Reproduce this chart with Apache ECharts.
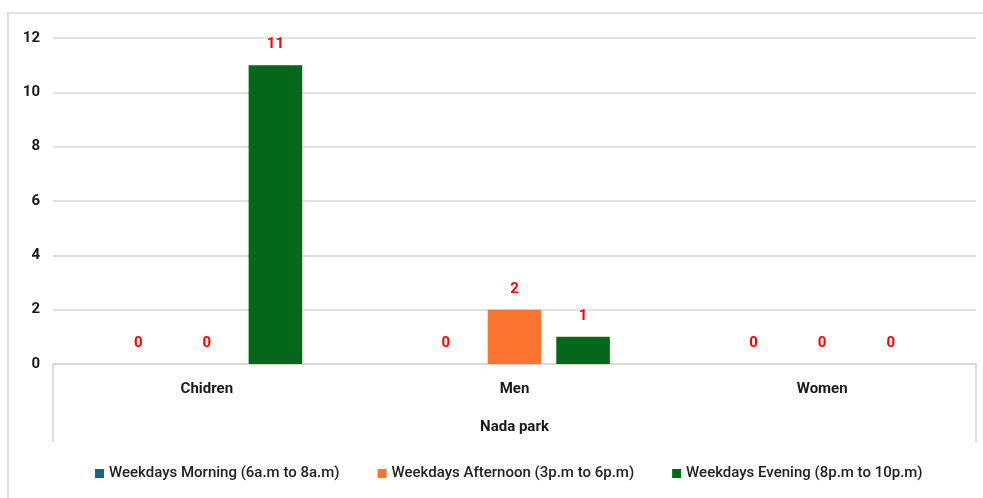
<!DOCTYPE html>
<html>
<head>
<meta charset="utf-8">
<script src="https://cdn.jsdelivr.net/npm/echarts@6/dist/echarts.min.js"></script>
<style>
  html, body { margin: 0; padding: 0; background: #fff; }
  #chart { width: 983px; height: 498px; }
</style>
</head>
<body>
<div id="chart"></div>
<script>
// Visitor counts at Nada park by group and time of day
const groups = ['Chidren', 'Men', 'Women'];
const parkName = ['Nada park'];
const seriesNames = [
  'Weekdays Morning (6a.m to 8a.m)',
  'Weekdays Afternoon (3p.m to 6p.m)',
  'Weekdays Evening (8p.m to 10p.m)'
];
const morning = [0, 0, 0];
const afternoon = [0, 2, 0];
const evening = [11, 1, 0];
const seriesColors = ['#1B6485', '#FB7430', '#05671A'];

const FONT = 'Roboto, "Liberation Sans", sans-serif';

const chart = echarts.init(document.getElementById('chart'), null, { renderer: 'canvas' });

function barSeries(name, values, color) {
  return {
    name: name,
    type: 'bar',
    data: values,
    xAxisIndex: 0,
    itemStyle: { color: color },
    barGap: '28%',
    barCategoryGap: '38%',
    label: {
      show: true,
      position: 'top',
      distance: 13,
      color: '#FF0000',
      fontWeight: 'bold',
      fontSize: 15,
      fontFamily: FONT
    }
  };
}

chart.setOption({
  animation: false,
  backgroundColor: '#ffffff',
  graphic: [{
    type: 'rect',
    shape: { x: 8, y: 13, width: 1000, height: 520 },
    style: { fill: 'none', stroke: '#d9d9d9', lineWidth: 1.5 },
    silent: true
  }],
  grid: { left: 53, right: 7, top: 38, bottom: 134 },
  legend: {
    bottom: 12,
    left: 90,
    icon: 'rect',
    itemWidth: 9,
    itemHeight: 9,
    itemGap: 38,
    itemTextGap: 4,
    textStyle: { fontSize: 15, color: '#222', fontFamily: FONT, fontWeight: 500 },
    data: seriesNames
  },
  xAxis: [{
    type: 'category',
    data: groups,
    axisLine: { show: true, lineStyle: { color: '#d4d4d4', width: 1.5 } },
    axisTick: { show: false },
    axisLabel: { margin: 18, fontSize: 15, fontWeight: 'bold', color: '#1a1a1a', fontFamily: FONT }
  }, {
    type: 'category',
    data: parkName,
    position: 'bottom',
    axisLine: { show: false },
    axisTick: { show: true, length: 78, lineStyle: { color: '#d4d4d4', width: 1.5 } },
    axisLabel: { margin: 56, fontSize: 15, fontWeight: 'bold', color: '#1a1a1a', fontFamily: FONT },
    splitLine: { show: false }
  }],
  yAxis: {
    type: 'value',
    min: 0,
    max: 12,
    interval: 2,
    axisLine: { show: false },
    axisTick: { show: false },
    splitLine: { lineStyle: { color: '#d9d9d9', width: 1.5 } },
    axisLabel: { margin: 13, fontSize: 15, fontWeight: 'bold', color: '#1a1a1a', fontFamily: FONT }
  },
  series: [
    barSeries(seriesNames[0], morning, seriesColors[0]),
    barSeries(seriesNames[1], afternoon, seriesColors[1]),
    barSeries(seriesNames[2], evening, seriesColors[2])
  ]
});
</script>
</body>
</html>
